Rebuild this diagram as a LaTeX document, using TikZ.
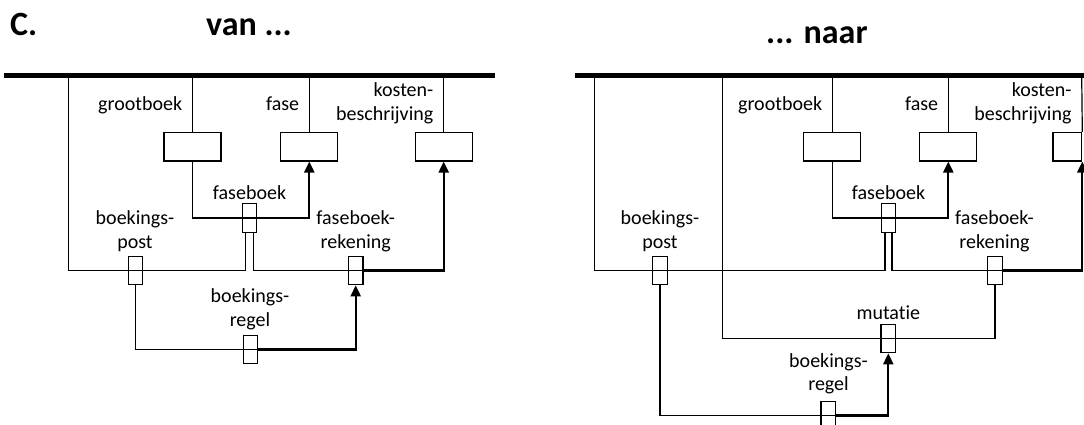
\documentclass[tikz,border=0pt]{standalone}
\usepackage{fontspec}
\setmainfont{Carlito}[Ligatures=NoCommon,RawFeature={-liga;-clig;-dlig}]
\usetikzlibrary{arrows.meta}
\tikzset{
  thin line/.style={line width=1.2pt},
  thick line/.style={line width=2.2pt},
  thick arrow/.style={line width=2.2pt,-{Triangle[length=11pt,width=10pt]}},
  bar/.style={line width=5pt},
  bigbox/.style={draw,line width=1.2pt,minimum width=57pt,minimum height=28.5pt,inner sep=0pt},
  smallbox/.style={draw,line width=1.2pt,minimum width=14.5pt,minimum height=28.5pt,inner sep=0pt},
  lbl/.style={inner sep=0pt,font=\fontsize{20}{24}\selectfont},
  ttl/.style={inner sep=0pt,font=\fontsize{34}{40}\selectfont\bfseries},
}
\begin{document}
\begin{tikzpicture}[x=1pt,y=-1pt]
\useasboundingbox (0,0) rectangle (1084,425);
% titles
\node[ttl,anchor=base west] (tC) at (10,36) {C.};
\node[ttl,anchor=base west] (tvan) at (206,36) {van ...};
\node[ttl,anchor=base west] (tnaar) at (766,43.3) {... naar};

%%%%%%%% LEFT
\coordinate (Lb0) at (4,76);
\coordinate (Lb1) at (495,76);
\draw[bar] (Lb0) -- (Lb1);
\coordinate (L1) at (68.7,76);
\coordinate (L2) at (192.4,76);
\coordinate (L3) at (309.3,76);
\coordinate (L4) at (443.7,76);
\node[bigbox] (gbL) at (192.4,146.7) {};
\node[bigbox] (faL) at (309.3,146.7) {};
\node[bigbox] (kbL) at (443.7,146.7) {};
\node[smallbox] (fbL) at (249.5,218) {};
\node[smallbox] (bpL) at (135.5,270.5) {};
\node[smallbox] (frL) at (355.7,270.5) {};
\node[smallbox] (brL) at (250.5,349.5) {};
\coordinate (fbL1) at ([xshift=-3.8pt]fbL.south);
\coordinate (fbL2) at ([xshift=3.8pt]fbL.south);

\draw[thin line] (L2) -- (gbL.north);
\draw[thin line] (L3) -- (faL.north);
\draw[thin line] (L4) -- (kbL.north);
\draw[thin line] (gbL.south) |- (fbL.east);
\draw[thick arrow] (fbL.east) -| (faL.south);
\draw[thin line] (L1) |- (bpL.center) -| (fbL1);
\draw[thin line] (fbL2) |- (frL.east);
\draw[thick arrow] (frL.east) -| (kbL.south);
\draw[thin line] (bpL.south) |- (brL.east);
\draw[thick arrow] (brL.east) -| (frL.south);

\node[lbl,anchor=base east] (lgbL) at (182.4,111) {grootboek};
\node[lbl,anchor=base east] (lfaL) at (299.3,111) {fase};
\node[lbl,anchor=base east] (lkb1L) at (433.5,97) {kosten-};
\node[lbl,anchor=base east] (lkb2L) at (433.5,120.5) {beschrijving};
\node[lbl,anchor=base] (lfbL) at (249.5,199.3) {faseboek};
\node[lbl,anchor=base] (lbp1L) at (135,224) {boekings-};
\node[lbl,anchor=base] (lbp2L) at (135,248) {post};
\node[lbl,anchor=base] (lfr1L) at (355.7,224) {faseboek-};
\node[lbl,anchor=base] (lfr2L) at (355.7,248) {rekening};
\node[lbl,anchor=base] (lbr1L) at (250,302.3) {boekings-};
\node[lbl,anchor=base] (lbr2L) at (250,326) {regel};

%%%%%%%% RIGHT
\coordinate (Rb0) at (575,76);
\coordinate (Rb1) at (1095,76);
\draw[bar] (Rb0) -- (Rb1);
\coordinate (R1) at (594.3,76);
\coordinate (R2) at (722.3,76);
\coordinate (R3) at (832.3,76);
\coordinate (R4) at (948.3,76);
\coordinate (R5) at (1081.7,76);
\node[bigbox] (gbR) at (832.3,146.7) {};
\node[bigbox] (faR) at (948.3,146.7) {};
\node[bigbox,minimum width=28.7pt] (kbR) at (1067.35,146.7) {};
\node[smallbox] (fbR) at (888.5,218) {};
\node[smallbox] (bpR) at (660,270.5) {};
\node[smallbox] (frR) at (995,270.5) {};
\node[smallbox] (muR) at (888.3,338.5) {};
\node[smallbox] (brR) at (828.3,415.5) {};
\coordinate (fbR1) at ([xshift=-3.5pt]fbR.south);
\coordinate (fbR2) at ([xshift=3.5pt]fbR.south);

\draw[thin line] (R3) -- (gbR.north);
\draw[thin line] (R4) -- (faR.north);
\draw[thin line] (R5) -- (kbR.north east);
\draw[thin line] (gbR.south) |- (fbR.east);
\draw[thick arrow] (fbR.east) -| (faR.south);
\draw[thin line] (R1) |- (bpR.center) -| (fbR1);
\draw[thin line] (fbR2) |- (frR.east);
\draw[thick arrow] (frR.east) -| (kbR.south east);
\draw[thin line] (R2) |- (muR.center) -| (frR.south);
\draw[thin line] (bpR.south) |- (brR.east);
\draw[thick arrow] (brR.east) -| (muR.south);

\node[lbl,anchor=base east] (lgbR) at (822.3,111) {grootboek};
\node[lbl,anchor=base east] (lfaR) at (938.3,111) {fase};
\node[lbl,anchor=base east] (lkb1R) at (1071.7,97) {kosten-};
\node[lbl,anchor=base east] (lkb2R) at (1071.7,120.5) {beschrijving};
\node[lbl,anchor=base] (lfbR) at (888.5,199.3) {faseboek};
\node[lbl,anchor=base] (lbp1R) at (660,224) {boekings-};
\node[lbl,anchor=base] (lbp2R) at (660,248) {post};
\node[lbl,anchor=base] (lfr1R) at (994.5,224) {faseboek-};
\node[lbl,anchor=base] (lfr2R) at (994.5,248) {rekening};
\node[lbl,anchor=base] (lmuR) at (888.3,319) {mutat\kern0pt ie};
\node[lbl,anchor=base] (lbr1R) at (828.5,367.3) {boekings-};
\node[lbl,anchor=base] (lbr2R) at (828.5,390.7) {regel};
\end{tikzpicture}
\end{document}
